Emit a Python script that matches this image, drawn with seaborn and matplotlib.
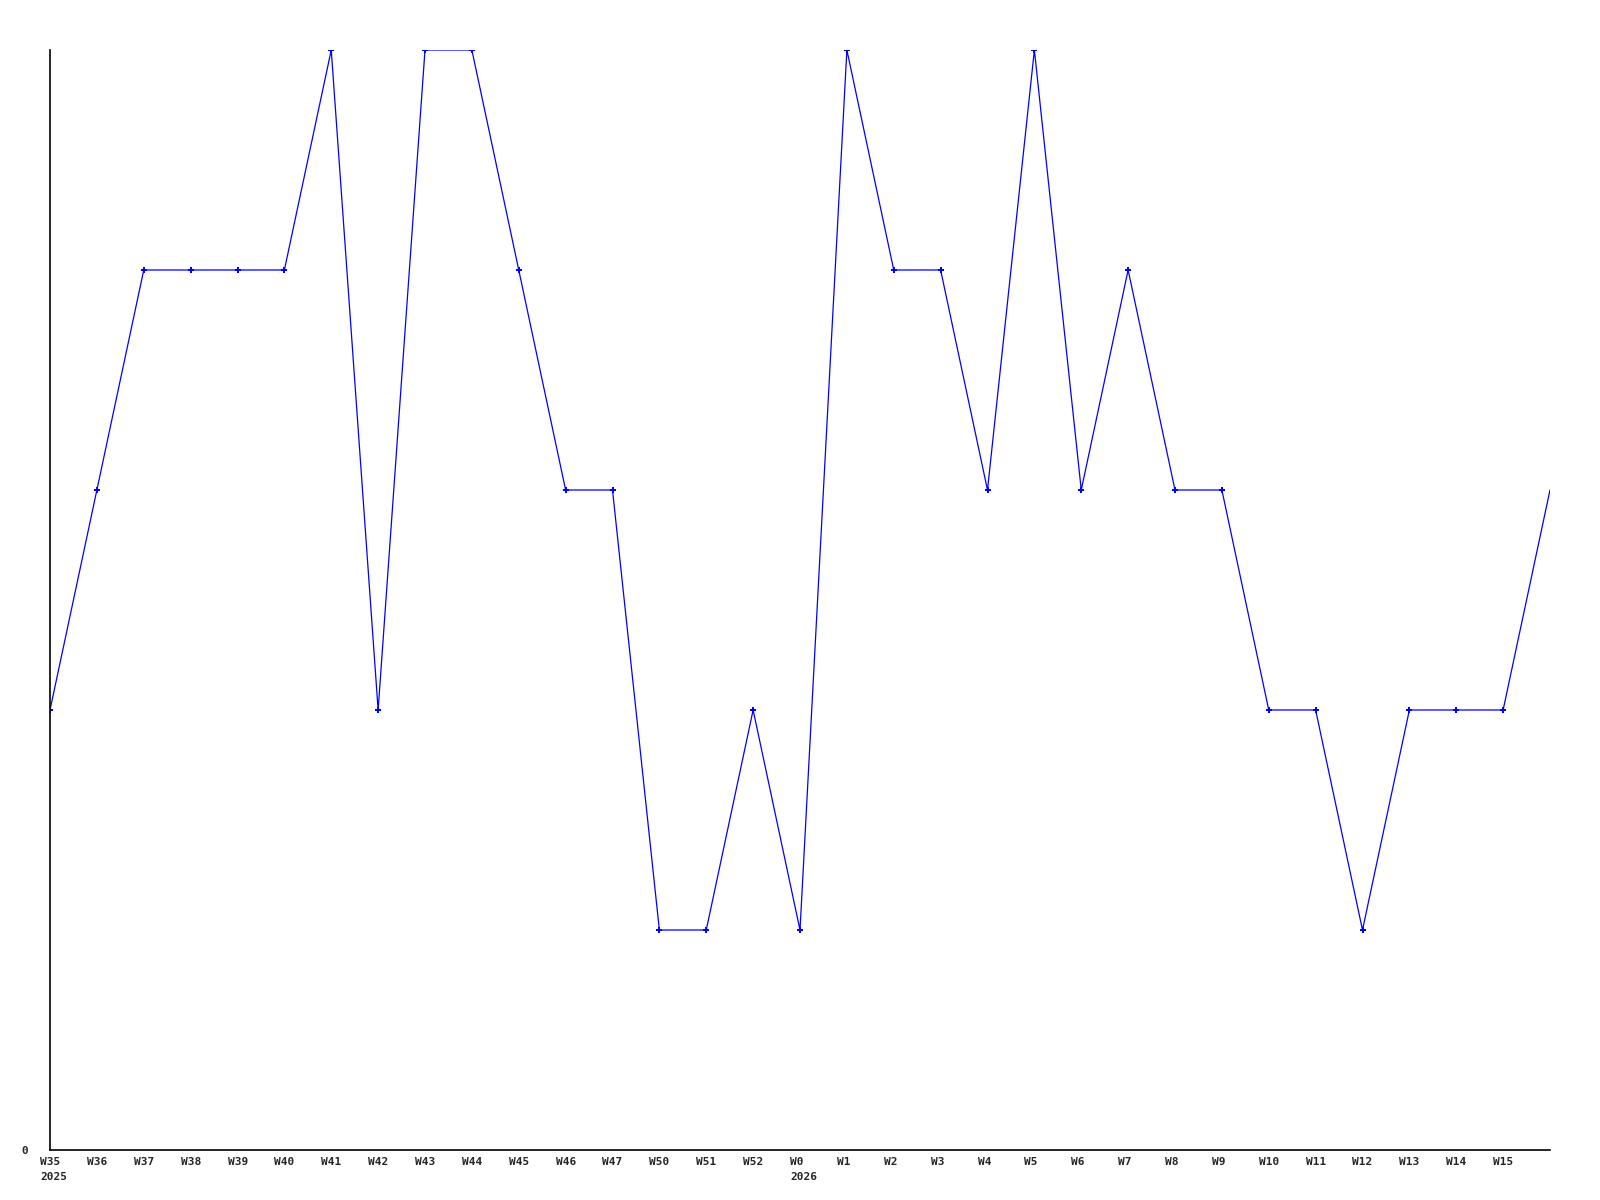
import numpy as np
import pandas as pd
import seaborn as sns
import matplotlib.pyplot as plt
import matplotlib.transforms as mtransforms

# weekly values (last point has no label, sits on the right edge)
weeks = ["W35", "W36", "W37", "W38", "W39", "W40", "W41", "W42", "W43", "W44",
         "W45", "W46", "W47", "W50", "W51", "W52", "W0", "W1", "W2", "W3",
         "W4", "W5", "W6", "W7", "W8", "W9", "W10", "W11", "W12", "W13",
         "W14", "W15", ""]
years = {"W35": "2025", "W0": "2026"}
values = [2, 3, 4, 4, 4, 4, 5, 2, 5, 5,
          4, 3, 3, 1, 1, 2, 1, 5, 4, 4,
          3, 5, 3, 4, 3, 3, 2, 2, 1, 2,
          2, 2, 3]

data = pd.DataFrame({"week": weeks, "value": values})
data["pos"] = np.arange(len(data))

sns.set_style("white")
plt.rcParams["font.family"] = ["DejaVu Sans Mono"]

fig = plt.figure(figsize=(16, 12), dpi=100)
ax = fig.add_axes([50 / 1600, 50 / 1200, 1500 / 1600, 1100 / 1200])

sns.lineplot(data=data, x="pos", y="value", color="#0000ff", linewidth=0.9, ax=ax)
sns.scatterplot(data=data.iloc[:-1], x="pos", y="value", color="#0000ff",
                marker="P", s=14, linewidth=0, ax=ax)

ax.set_xlim(0, len(data) - 1)
ax.set_ylim(0, 5)

ax.spines["top"].set_visible(False)
ax.spines["right"].set_visible(False)
ax.spines["left"].set_color("black")
ax.spines["bottom"].set_color("black")
ax.spines["left"].set_linewidth(1.2)
ax.spines["bottom"].set_linewidth(1.2)

# week labels, left edge 10px before each tick
ax.set_xticks([])
trans = mtransforms.blended_transform_factory(ax.transData, ax.transAxes)
trans = trans + mtransforms.ScaledTranslation(-10 / 100, -7 / 100, fig.dpi_scale_trans)
for p, w in zip(data["pos"], weeks):
    txt = w + ("\n" + years[w] if w in years else "")
    ax.text(p, 0, txt, transform=trans, ha="left", va="top", fontsize=8,
            fontweight="bold", linespacing=1.6)

ax.set_yticks([0])
ax.set_yticklabels(["0"], fontsize=8, fontweight="bold")
ax.tick_params(axis="y", length=0, pad=16)
ax.set_xlabel("")
ax.set_ylabel("")

fig.savefig("out.png", dpi=100, facecolor="white")
